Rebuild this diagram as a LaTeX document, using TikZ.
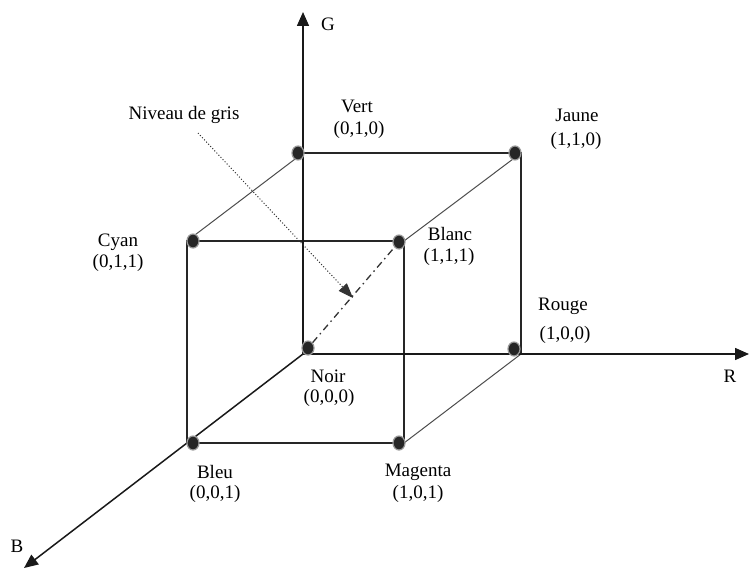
\documentclass[tikz,border=0pt]{standalone}
\usepackage{fontspec}
\setmainfont{Liberation Serif}
\usetikzlibrary{arrows.meta,shapes.geometric}
\begin{document}
\begin{tikzpicture}[x=1pt,y=-1pt,
  edge/.style={line width=1.3pt,black!85},
  diag/.style={line width=1pt,black!70},
  axis/.style={line width=1.5pt,black!90,-{Triangle[length=14pt,width=12pt]}},
  dot/.style={ellipse,minimum width=12pt,minimum height=14pt,inner sep=0pt,fill=black!85,draw=black!40,line width=1.2pt},
  lbl/.style={font=\fontsize{19}{22}\selectfont,inner sep=0pt}]
\useasboundingbox (0,0) rectangle (749,572);
% corners
\coordinate (O) at (303,354);
\coordinate (Rc) at (521,354);
\coordinate (Vc) at (303,153);
\coordinate (Jc) at (521,153);
\coordinate (Cc) at (187,241);
\coordinate (Wc) at (404,241);
\coordinate (Bc) at (187,443);
\coordinate (Mc) at (404,443);
\coordinate (Gend) at (303,12);
\coordinate (Rend) at (749,354);
\coordinate (Bend) at (24,568);
% diagonals
\draw[diag] (Vc) -- (Cc);
\draw[diag] (Jc) -- (Wc);
\draw[diag] (Rc) -- (Mc);
% back square
\draw[edge] (Vc) -- (Jc) -- (Rc);
% front square
\draw[edge] (Cc) -- (Wc) -- (Mc) -- (Bc) -- cycle;
% axes
\draw[axis] (O) -- (Gend);
\draw[axis] (O) -- (Rend);
\draw[axis] (O) -- (Bend);
% dots
\node[dot] (noir) at (308,348) {};
\node[dot] (rouge) at (514,349) {};
\node[dot] (vert) at (298,153) {};
\node[dot] (jaune) at (515,153) {};
\node[dot] (cyan) at (193,241) {};
\node[dot] (blanc) at (399,242) {};
\node[dot] (bleu) at (193,443) {};
\node[dot] (magenta) at (399,443) {};
% grey level diagonal
\draw[line width=1.3pt,black!80,dash pattern=on 7pt off 4pt on 1.5pt off 4pt] (noir) -- (blanc);
\coordinate (ngs) at (198,133);
\coordinate (nge) at (353,298);
\draw[line width=1pt,black!80,dotted,-{Triangle[length=15pt,width=11pt]}] (ngs) -- (nge);
% labels
\node[lbl] (lG) at (328,24) {G};
\node[lbl] (lR) at (730,376) {R};
\node[lbl] (lB) at (17,546) {B};
\node[lbl] (lng) at (184,115) {Niveau de gris};
\node[lbl] (lvert) at (357,106) {Vert};
\node[lbl] (cvert) at (359,130) {(0,1,0)};
\node[lbl] (ljaune) at (577,115) {Jaune};
\node[lbl] (cjaune) at (576,141) {(1,1,0)};
\node[lbl] (lcyan) at (118,242) {Cyan};
\node[lbl] (ccyan) at (118,263) {(0,1,1)};
\node[lbl] (lblanc) at (450,234) {Blanc};
\node[lbl] (cblanc) at (449,257) {(1,1,1)};
\node[lbl] (lrouge) at (563,306) {Rouge};
\node[lbl] (crouge) at (565,335) {(1,0,0)};
\node[lbl] (lnoir) at (328,376) {Noir};
\node[lbl] (cnoir) at (329,398) {(0,0,0)};
\node[lbl] (lbleu) at (215,472) {Bleu};
\node[lbl] (cbleu) at (215,494) {(0,0,1)};
\node[lbl] (lmag) at (418,472) {Magenta};
\node[lbl] (cmag) at (418,494) {(1,0,1)};
\end{tikzpicture}
\end{document}
